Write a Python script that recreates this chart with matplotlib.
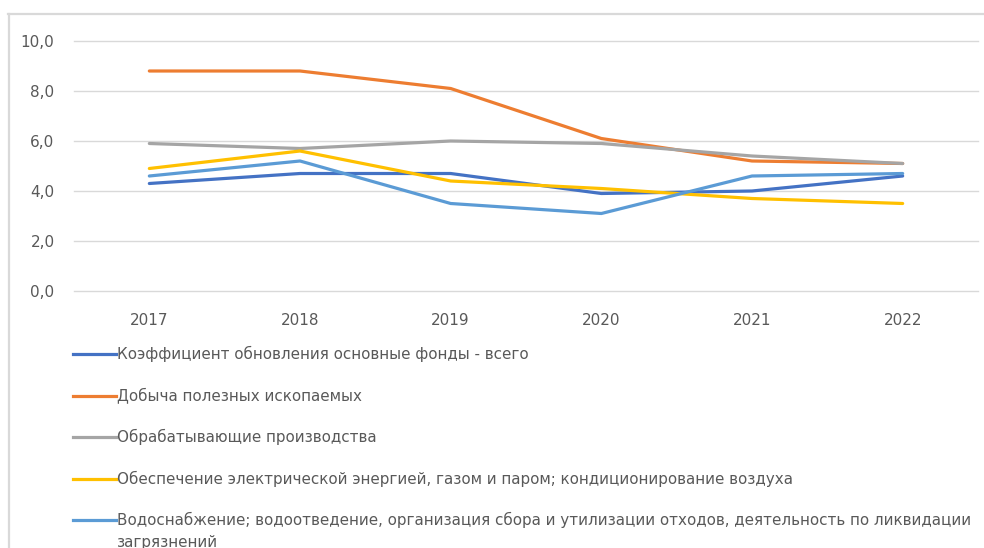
import numpy as np
import matplotlib
matplotlib.use("Agg")
import matplotlib.pyplot as plt
from matplotlib.lines import Line2D
from matplotlib.ticker import FuncFormatter

# =========================================================
# Data
# =========================================================
years = ["2017", "2018", "2019", "2020", "2021", "2022"]

total = [4.3, 4.7, 4.7, 3.9, 4.0, 4.6]
mining = [8.8, 8.8, 8.1, 6.1, 5.2, 5.1]
manufacturing = [5.9, 5.7, 6.0, 5.9, 5.4, 5.1]
energy = [4.9, 5.6, 4.4, 4.1, 3.7, 3.5]
water = [4.6, 5.2, 3.5, 3.1, 4.6, 4.7]

labels = [
    "Коэффициент обновления основные фонды - всего",
    "Добыча полезных ископаемых",
    "Обрабатывающие производства",
    "Обеспечение электрической энергией, газом и паром; кондиционирование воздуха",
    "Водоснабжение; водоотведение, организация сбора и утилизации отходов, деятельность по ликвидации\nзагрязнений",
]
series = [total, mining, manufacturing, energy, water]
colors = ["#4472C4", "#ED7D31", "#A5A5A5", "#FFC000", "#5B9BD5"]

# =========================================================
# Figure
# =========================================================
W, H = 984, 548
fig = plt.figure(figsize=(W / 100, H / 100), dpi=100)

def fx(px):
    return px / W

def fy(py):
    return 1 - py / H

ax = fig.add_axes([fx(74), fy(291), fx(978) - fx(74), fy(41) - fy(291)])

x = np.arange(len(years))
for vals, c in zip(series, colors):
    ax.plot(x, vals, color=c, lw=2.3, solid_capstyle="round", zorder=3)

ax.set_xlim(-0.5, len(years) - 0.5)
ax.set_ylim(0, 10)
ax.set_yticks(np.arange(0, 10.1, 2))
ax.yaxis.set_major_formatter(FuncFormatter(lambda v, p: f"{v:.1f}".replace(".", ",")))
ax.set_xticks(x)
ax.set_xticklabels(years)
ax.grid(axis="y", color="#d9d9d9", lw=1)
for gl in ax.get_ygridlines():
    gl.set_clip_on(False)
ax.set_axisbelow(True)
for s in ax.spines.values():
    s.set_visible(False)
ax.tick_params(axis="both", length=0, labelsize=11, colors="#595959")
ax.tick_params(axis="x", pad=16)
ax.tick_params(axis="y", pad=14)

# =========================================================
# Frame
# =========================================================
fig.add_artist(Line2D([fx(8), 1], [fy(13.5), fy(13.5)], transform=fig.transFigure,
                      color="#d9d9d9", lw=1.6))
fig.add_artist(Line2D([fx(8.5), fx(8.5)], [fy(13.5), 0], transform=fig.transFigure,
                      color="#d9d9d9", lw=1.6))

# =========================================================
# Legend (manual, vertical)
# =========================================================
leg_y = [354, 395.5, 437, 478.5, 520]
for lab, c, yy in zip(labels, colors, leg_y):
    fig.add_artist(Line2D([fx(73), fx(116)], [fy(yy), fy(yy)], transform=fig.transFigure,
                          color=c, lw=2.3))
    first, *rest = lab.split("\n")
    fig.text(fx(117), fy(yy), first, fontsize=10.9, color="#595959", va="center", ha="left")
    for k, line in enumerate(rest):
        fig.text(fx(117), fy(yy + 22 * (k + 1)), line, fontsize=10.9, color="#595959",
                 va="center", ha="left")

fig.savefig("out.png", dpi=100)
